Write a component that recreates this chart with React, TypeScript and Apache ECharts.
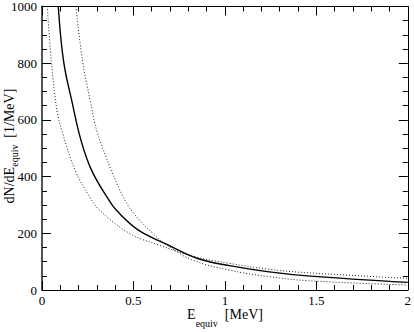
import React, { useEffect, useRef } from "react";
import * as echarts from "echarts";

// Solid curve (central)
const solidX = [0.089, 0.118, 0.163, 0.214, 0.272, 0.361, 0.407, 0.525, 0.68, 0.852, 1.025, 1.243, 1.45, 2.0];
const solidY = [1000, 807, 667, 526, 421, 322, 281, 212, 162, 111, 86, 64, 50, 27];

// Dotted curve, shallow (left at top, upper at right)
const dotAX = [0.029, 0.051, 0.082, 0.109, 0.182, 0.262, 0.309, 0.48, 0.643, 0.825, 1.025, 1.243, 1.45, 2.0];
const dotAY = [1000, 807, 632, 561, 421, 327, 285, 199, 158, 119, 94, 73, 61, 41];

// Dotted curve, steep (right at top, lower at right)
const dotBX = [0.185, 0.222, 0.264, 0.3, 0.38, 0.443, 0.5, 0.607, 0.698, 0.825, 1.025, 1.243, 1.45, 2.0];
const dotBY = [1000, 807, 667, 561, 421, 330, 272, 199, 152, 105, 70, 47, 33, 17.5];

const xTitleMain = "E";
const xTitleSub = "equiv";
const xTitleUnit = "  [MeV]";
const yTitleMain = "dN/dE";
const yTitleSub = "equiv";
const yTitleUnit = "  [1/MeV]";

const FONT = "Liberation Serif";

function pairs(xs: number[], ys: number[]) {
  return xs.map((x, i) => [x, ys[i]]);
}

export default function App() {
  const ref = useRef<HTMLDivElement>(null);
  useEffect(() => {
    if (!ref.current) return;
    const chart = echarts.init(ref.current, undefined, { renderer: "svg" });
    const tickCommon = {
      axisTick: { show: true, inside: true, length: 9, lineStyle: { color: "#000", width: 1 } },
      minorTick: { show: true, length: 5, lineStyle: { color: "#000", width: 1 } },
      splitLine: { show: false },
      minorSplitLine: { show: false },
    };
    const richX = {
      a: { fontFamily: FONT, fontSize: 14, color: "#000", lineHeight: 21, verticalAlign: "top" },
      s: { fontFamily: FONT, fontSize: 10, color: "#000", lineHeight: 10, verticalAlign: "bottom" },
    };
    const richY = {
      a: { fontFamily: FONT, fontSize: 14, color: "#000", lineHeight: 17, verticalAlign: "top" },
      s: { fontFamily: FONT, fontSize: 10, color: "#000", lineHeight: 10, verticalAlign: "bottom" },
    };
    const labelFmt = (v: number) => String(v);
    chart.setOption({
      animation: false,
      backgroundColor: "#fff",
      grid: { left: 42, right: 5, top: 5, bottom: 42, containLabel: false },
      xAxis: [
        {
          type: "value",
          min: 0,
          max: 2,
          interval: 0.5,
          position: "bottom",
          axisLine: { show: true, onZero: false, lineStyle: { color: "#000", width: 1 } },
          axisLabel: { show: true, margin: 4, fontFamily: FONT, fontSize: 13, color: "#000", formatter: labelFmt },
          ...tickCommon,
          minorTick: { ...tickCommon.minorTick, splitNumber: 5 },
        },
        {
          type: "value",
          min: 0,
          max: 2,
          interval: 0.5,
          position: "top",
          axisLine: { show: true, onZero: false, lineStyle: { color: "#000", width: 1 } },
          axisLabel: { show: false },
          ...tickCommon,
          minorTick: { ...tickCommon.minorTick, splitNumber: 5 },
        },
      ],
      yAxis: [
        {
          type: "value",
          min: 0,
          max: 1000,
          interval: 200,
          position: "left",
          axisLine: { show: true, onZero: false, lineStyle: { color: "#555", width: 2 } },
          axisLabel: { show: true, margin: 5, fontFamily: FONT, fontSize: 13, color: "#000", formatter: labelFmt },
          ...tickCommon,
          minorTick: { ...tickCommon.minorTick, splitNumber: 4 },
        },
        {
          type: "value",
          min: 0,
          max: 1000,
          interval: 200,
          position: "right",
          axisLine: { show: true, onZero: false, lineStyle: { color: "#000", width: 1 } },
          axisLabel: { show: false },
          ...tickCommon,
          minorTick: { ...tickCommon.minorTick, splitNumber: 4 },
        },
      ],
      series: [
        {
          type: "line",
          xAxisIndex: 0,
          yAxisIndex: 0,
          data: pairs(solidX, solidY),
          showSymbol: false,
          smooth: 0.4,
          lineStyle: { color: "#000", width: 1.4, type: "solid" },
        },
        {
          type: "line",
          xAxisIndex: 0,
          yAxisIndex: 0,
          data: pairs(dotAX, dotAY),
          showSymbol: false,
          smooth: 0.4,
          lineStyle: { color: "#222", width: 1, type: [1, 2] },
        },
        {
          type: "line",
          xAxisIndex: 0,
          yAxisIndex: 0,
          data: pairs(dotBX, dotBY),
          showSymbol: false,
          smooth: 0.4,
          lineStyle: { color: "#222", width: 1, type: [1, 2] },
        },
      ],
      graphic: [
        {
          type: "text",
          x: 225,
          y: 318,
          style: {
            text: `{a|${xTitleMain}}{s|${xTitleSub}}{a|${xTitleUnit}}`,
            rich: richX,
            align: "center",
            verticalAlign: "middle",
          },
        },
        {
          type: "text",
          x: 11,
          y: 146,
          rotation: Math.PI / 2,
          style: {
            text: `{a|${yTitleMain}}{s|${yTitleSub}}{a|${yTitleUnit}}`,
            rich: richY,
            align: "center",
            verticalAlign: "middle",
          },
        },
      ],
    });
    return () => chart.dispose();
  }, []);
  return (
    <div
      ref={ref}
      style={{ position: "fixed", left: 0, top: 0, width: 414, height: 332, background: "#fff" }}
    />
  );
}
